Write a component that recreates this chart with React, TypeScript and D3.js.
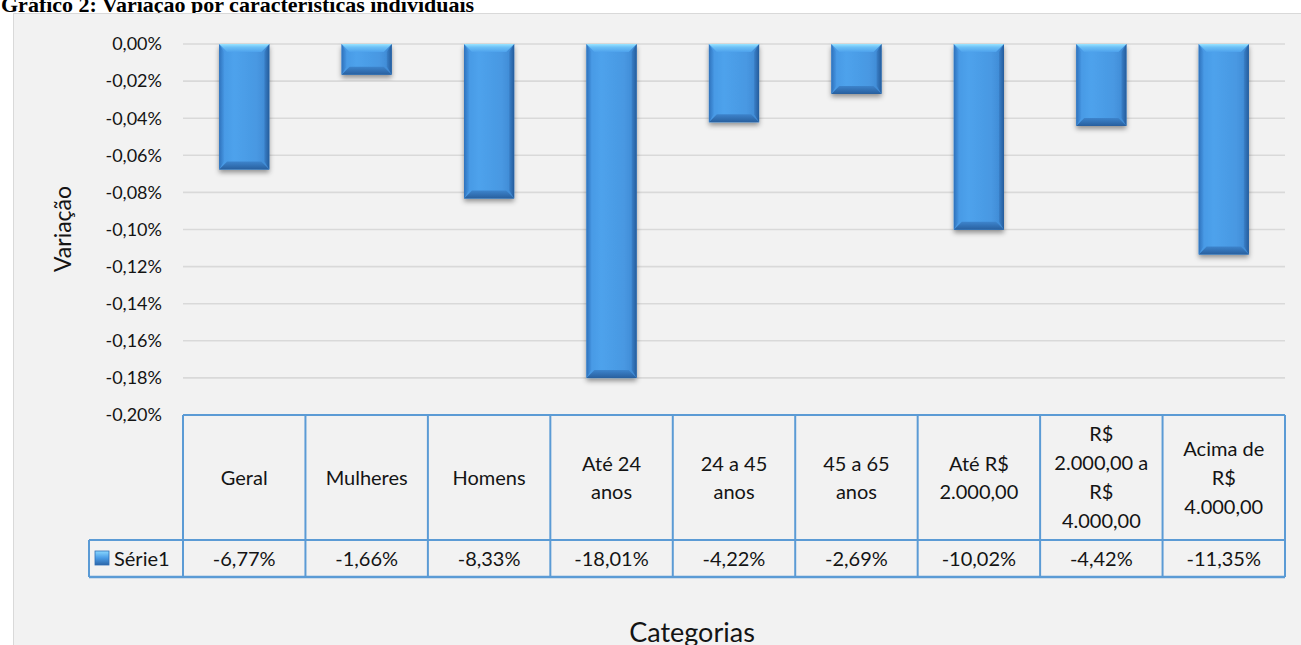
import * as d3 from "d3"

const categories = [
  "Geral",
  "Mulheres",
  "Homens",
  "Até 24 anos",
  "24 a 45 anos",
  "45 a 65 anos",
  "Até R$ 2.000,00",
  "R$ 2.000,00 a R$ 4.000,00",
  "Acima de R$ 4.000,00",
]

const categoryLines = [
  ["Geral"],
  ["Mulheres"],
  ["Homens"],
  ["Até 24", "anos"],
  ["24 a 45", "anos"],
  ["45 a 65", "anos"],
  ["Até R$", "2.000,00"],
  ["R$", "2.000,00 a", "R$", "4.000,00"],
  ["Acima de", "R$", "4.000,00"],
]

// Série1, in % (axis shows the same numbers / 100, as in the original)
const values = [-6.77, -1.66, -8.33, -18.01, -4.22, -2.69, -10.02, -4.42, -11.35]

const yTicks = [0, -2, -4, -6, -8, -10, -12, -14, -16, -18, -20]

const seriesName = "Série1"
const title = "Gráfico 2: Variação por características individuais"
const yTitle = "Variação"
const xTitle = "Categorias"

const FONT = "Lato, 'Open Sans', sans-serif"
const TABLE_BLUE = "#5b9bd5"
const INK = "#141414"

const fmtValue = (v: number) => v.toFixed(2).replace(".", ",") + "%"
const fmtTick = (v: number) => (v / 100).toFixed(2).replace(".", ",") + "%"

export default function App() {
  const width = 1301
  const height = 645

  const plot = { left: 183, right: 1285, top: 44, bottom: 415 }
  const headerBottom = 540
  const rowBottom = 577
  const labelLeft = 89

  const x = d3
    .scaleBand<string>()
    .domain(categories)
    .range([plot.left, plot.right])
    .paddingInner(0.59)
    .paddingOuter(0.295)

  const y = d3.scaleLinear().domain([-20, 0]).range([plot.bottom, plot.top])

  const step = x.step()
  const colLeft = (i: number) => plot.left + i * step
  const bw = x.bandwidth()
  const bev = 8
  const side = 5

  return (
    <div style={{ position: "absolute", left: 0, top: 0 }}>
      <svg width={width} height={height} style={{ display: "block" }}>
        <defs>
          <linearGradient id="barBody" x1="0" x2="1" y1="0" y2="0">
            <stop offset="0" stopColor="#4596e2" />
            <stop offset="0.3" stopColor="#4ea2ec" />
            <stop offset="0.75" stopColor="#4898e2" />
            <stop offset="1" stopColor="#3d86d0" />
          </linearGradient>
          <linearGradient id="barTop" x1="0" x2="0" y1="0" y2="1">
            <stop offset="0" stopColor="#9ae4ff" />
            <stop offset="0.4" stopColor="#6cc0f6" />
            <stop offset="1" stopColor="#4ea2ec" />
          </linearGradient>
          <linearGradient id="barLeft" x1="0" x2="1" y1="0" y2="0">
            <stop offset="0" stopColor="#2f72bc" />
            <stop offset="1" stopColor="#4596e2" />
          </linearGradient>
          <linearGradient id="barRight" x1="0" x2="1" y1="0" y2="0">
            <stop offset="0" stopColor="#3a80c8" />
            <stop offset="1" stopColor="#245c9c" />
          </linearGradient>
          <linearGradient id="barBottom" x1="0" x2="0" y1="0" y2="1">
            <stop offset="0" stopColor="#3d84cc" />
            <stop offset="1" stopColor="#285f9e" />
          </linearGradient>
          <linearGradient id="keyFill" x1="0" x2="0" y1="0" y2="1">
            <stop offset="0" stopColor="#8ad8ff" />
            <stop offset="0.5" stopColor="#4a9ce6" />
            <stop offset="1" stopColor="#2c66a8" />
          </linearGradient>
          <filter id="shadow" x="-20%" y="-20%" width="140%" height="140%">
            <feDropShadow dx="0" dy="3" stdDeviation="2.4" floodColor="#000" floodOpacity="0.4" />
          </filter>
        </defs>

        <text
          x={1}
          y={12}
          fontFamily="'Liberation Serif', 'Times New Roman', serif"
          fontWeight="bold"
          fontSize={22}
          fill="#000"
        >
          {title}
        </text>

        {/* chart area */}
        <rect x={13.5} y={13.5} width={1310} height={700} fill="#f2f2f2" stroke="#d9d9d9" strokeWidth={1} />

        {/* gridlines */}
        {yTicks
          .filter((t) => t !== -20)
          .map((t) => (
            <line key={t} x1={plot.left} x2={plot.right} y1={y(t)} y2={y(t)} stroke="#d9d9d9" strokeWidth={1.6} />
          ))}

        {/* y tick labels */}
        {yTicks.map((t) => (
          <text
            key={t}
            x={162}
            y={y(t)}
            dy="0.35em"
            textAnchor="end"
            fontFamily={FONT}
            fontSize={18}
            fill={INK}
          >
            {fmtTick(t)}
          </text>
        ))}

        {/* bars */}
        {values.map((v, i) => {
          const x0 = x(categories[i])!
          const x1 = x0 + bw
          const y0 = y(0)
          const y1 = y(v)
          const b = Math.min(bev, (y1 - y0) / 2)
          return (
            <g key={categories[i]}>
              <rect x={x0} y={y0} width={bw} height={y1 - y0} fill="url(#barBody)" filter="url(#shadow)" />
              <polygon
                points={`${x0},${y0} ${x0 + side},${y0 + b} ${x0 + side},${y1 - b} ${x0},${y1}`}
                fill="url(#barLeft)"
              />
              <polygon
                points={`${x1},${y0} ${x1 - side},${y0 + b} ${x1 - side},${y1 - b} ${x1},${y1}`}
                fill="url(#barRight)"
              />
              <polygon
                points={`${x0},${y0} ${x1},${y0} ${x1 - b},${y0 + b} ${x0 + b},${y0 + b}`}
                fill="url(#barTop)"
              />
              <polygon
                points={`${x0},${y1} ${x0 + b},${y1 - b} ${x1 - b},${y1 - b} ${x1},${y1}`}
                fill="url(#barBottom)"
              />
            </g>
          )
        })}

        {/* data table */}
        <g stroke={TABLE_BLUE} strokeWidth={2} fill="none">
          <line x1={plot.left} x2={plot.right} y1={plot.bottom} y2={plot.bottom} />
          <line x1={labelLeft} x2={plot.right} y1={headerBottom} y2={headerBottom} />
          <line x1={labelLeft} x2={plot.right} y1={rowBottom} y2={rowBottom} strokeWidth={2.5} />
          <line x1={labelLeft} x2={labelLeft} y1={headerBottom} y2={rowBottom} />
          {d3.range(categories.length + 1).map((i) => (
            <line key={i} x1={colLeft(i)} x2={colLeft(i)} y1={plot.bottom} y2={rowBottom} />
          ))}
        </g>

        {categoryLines.map((lines, i) => {
          const cx = colLeft(i) + step / 2
          const cy = (plot.bottom + headerBottom) / 2
          const lh = lines.length > 2 ? 29 : 28
          return (
            <text key={i} textAnchor="middle" fontFamily={FONT} fontSize={20} fill={INK}>
              {lines.map((ln, j) => (
                <tspan key={j} x={cx} y={cy + (j - (lines.length - 1) / 2) * lh} dy="0.35em">
                  {ln}
                </tspan>
              ))}
            </text>
          )
        })}

        {values.map((v, i) => (
          <text
            key={i}
            x={colLeft(i) + step / 2}
            y={(headerBottom + rowBottom) / 2}
            dy="0.35em"
            textAnchor="middle"
            fontFamily={FONT}
            fontSize={20}
            fill={INK}
          >
            {fmtValue(v)}
          </text>
        ))}

        {/* legend key */}
        <rect x={95} y={551} width={14} height={14} fill="url(#keyFill)" stroke="#2f6fb6" strokeWidth={0.8} />
        <text
          x={114}
          y={(headerBottom + rowBottom) / 2}
          dy="0.35em"
          fontFamily={FONT}
          fontSize={20}
          fill={INK}
        >
          {seriesName}
        </text>

        <text
          transform={`translate(71,229) rotate(-90)`}
          textAnchor="middle"
          fontFamily={FONT}
          fontSize={23}
          fill={INK}
        >
          {yTitle}
        </text>

        <text x={692} y={642} textAnchor="middle" fontFamily={FONT} fontSize={27} fill={INK}>
          {xTitle}
        </text>
      </svg>
    </div>
  )
}
